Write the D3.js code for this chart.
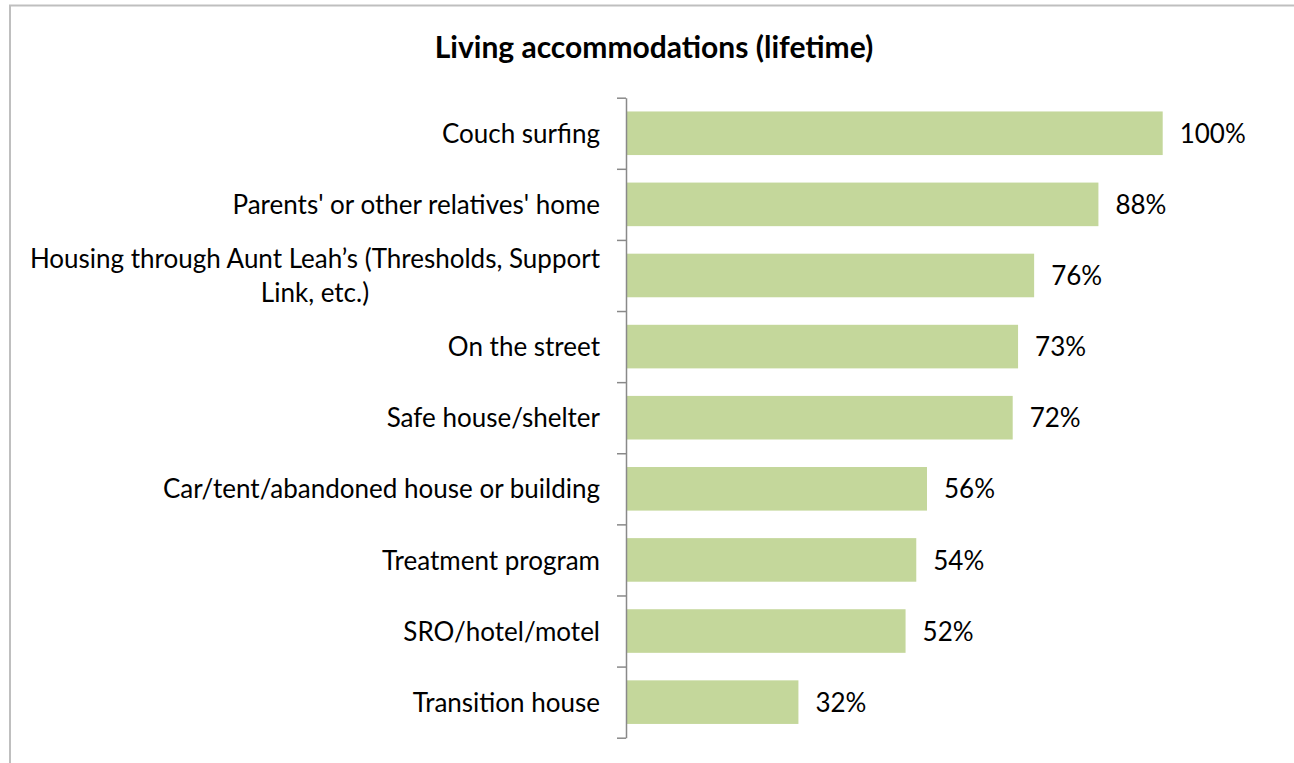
<!DOCTYPE html>
<html>
<head>
<meta charset="utf-8">
<script src="https://cdn.jsdelivr.net/npm/d3@7"></script>
<style>
  html, body { margin: 0; padding: 0; background: #fff; }
  svg { display: block; }
  text { font-family: Lato, "Open Sans", sans-serif; fill: #000; }
</style>
</head>
<body>
<svg id="chart" width="1294" height="763"></svg>
<script>
const title = "Living accommodations (lifetime)";
const categories = [
  "Couch surfing",
  "Parents' or other relatives' home",
  "Housing through Aunt Leah’s (Thresholds, Support\nLink, etc.)",
  "On the street",
  "Safe house/shelter",
  "Car/tent/abandoned house or building",
  "Treatment program",
  "SRO/hotel/motel",
  "Transition house"
];
const values = [100, 88, 76, 73, 72, 56, 54, 52, 32];
const valueLabels = ["100%", "88%", "76%", "73%", "72%", "56%", "54%", "52%", "32%"];

const W = 1294, H = 763;
const svg = d3.select("#chart");
const FS = 26;

// outer border (top and left visible)
svg.append("path")
  .attr("d", d3.line()([[10, H], [10, 5.5], [W, 5.5]]))
  .attr("fill", "none").attr("stroke", "#BFBFBF").attr("stroke-width", 2);

svg.append("text")
  .attr("x", 654).attr("y", 58)
  .attr("text-anchor", "middle")
  .attr("font-size", 30).attr("font-weight", "bold")
  .text(title);

const x = d3.scaleLinear().domain([0, 100]).range([627, 1162.7]);
const y = d3.scaleBand().domain(categories).range([97.7, 737.7])
  .paddingInner(0.387).paddingOuter(0.1935);

// bars
svg.append("g").selectAll("rect").data(values).join("rect")
  .attr("x", x(0))
  .attr("y", (d, i) => y(categories[i]))
  .attr("width", d => x(d) - x(0))
  .attr("height", y.bandwidth())
  .attr("fill", "#C4D79B");

// value labels
svg.append("g").selectAll("text").data(values).join("text")
  .attr("x", d => x(d) + 17)
  .attr("y", (d, i) => y(categories[i]) + y.bandwidth() / 2)
  .attr("dy", "0.37em")
  .attr("font-size", FS)
  .text((d, i) => valueLabels[i]);

// category axis with ticks between categories
const edges = d3.scaleLinear().domain([0, categories.length]).range([97.7, 737.7]);
const axisG = svg.append("g").attr("transform", "translate(626,0)")
  .call(d3.axisLeft(edges).tickValues(d3.range(categories.length + 1)).tickSize(9).tickSizeOuter(0).tickFormat(""));
axisG.selectAll("path, line").attr("stroke", "#898989").attr("stroke-width", 1.5);

// category labels
const labelX = 600, lineH = 34;
categories.forEach(c => {
  const lines = c.split("\n");
  const cy = y(c) + y.bandwidth() / 2;
  const g = svg.append("g");
  const texts = lines.map((ln, k) => g.append("text")
    .attr("font-size", FS)
    .attr("y", cy + (k - (lines.length - 1) / 2) * lineH)
    .attr("dy", "0.37em")
    .text(ln));
  const wMax = d3.max(texts, t => t.node().getComputedTextLength());
  texts.forEach(t => t.attr("x", labelX - wMax / 2).attr("text-anchor", "middle"));
});
</script>
</body>
</html>
